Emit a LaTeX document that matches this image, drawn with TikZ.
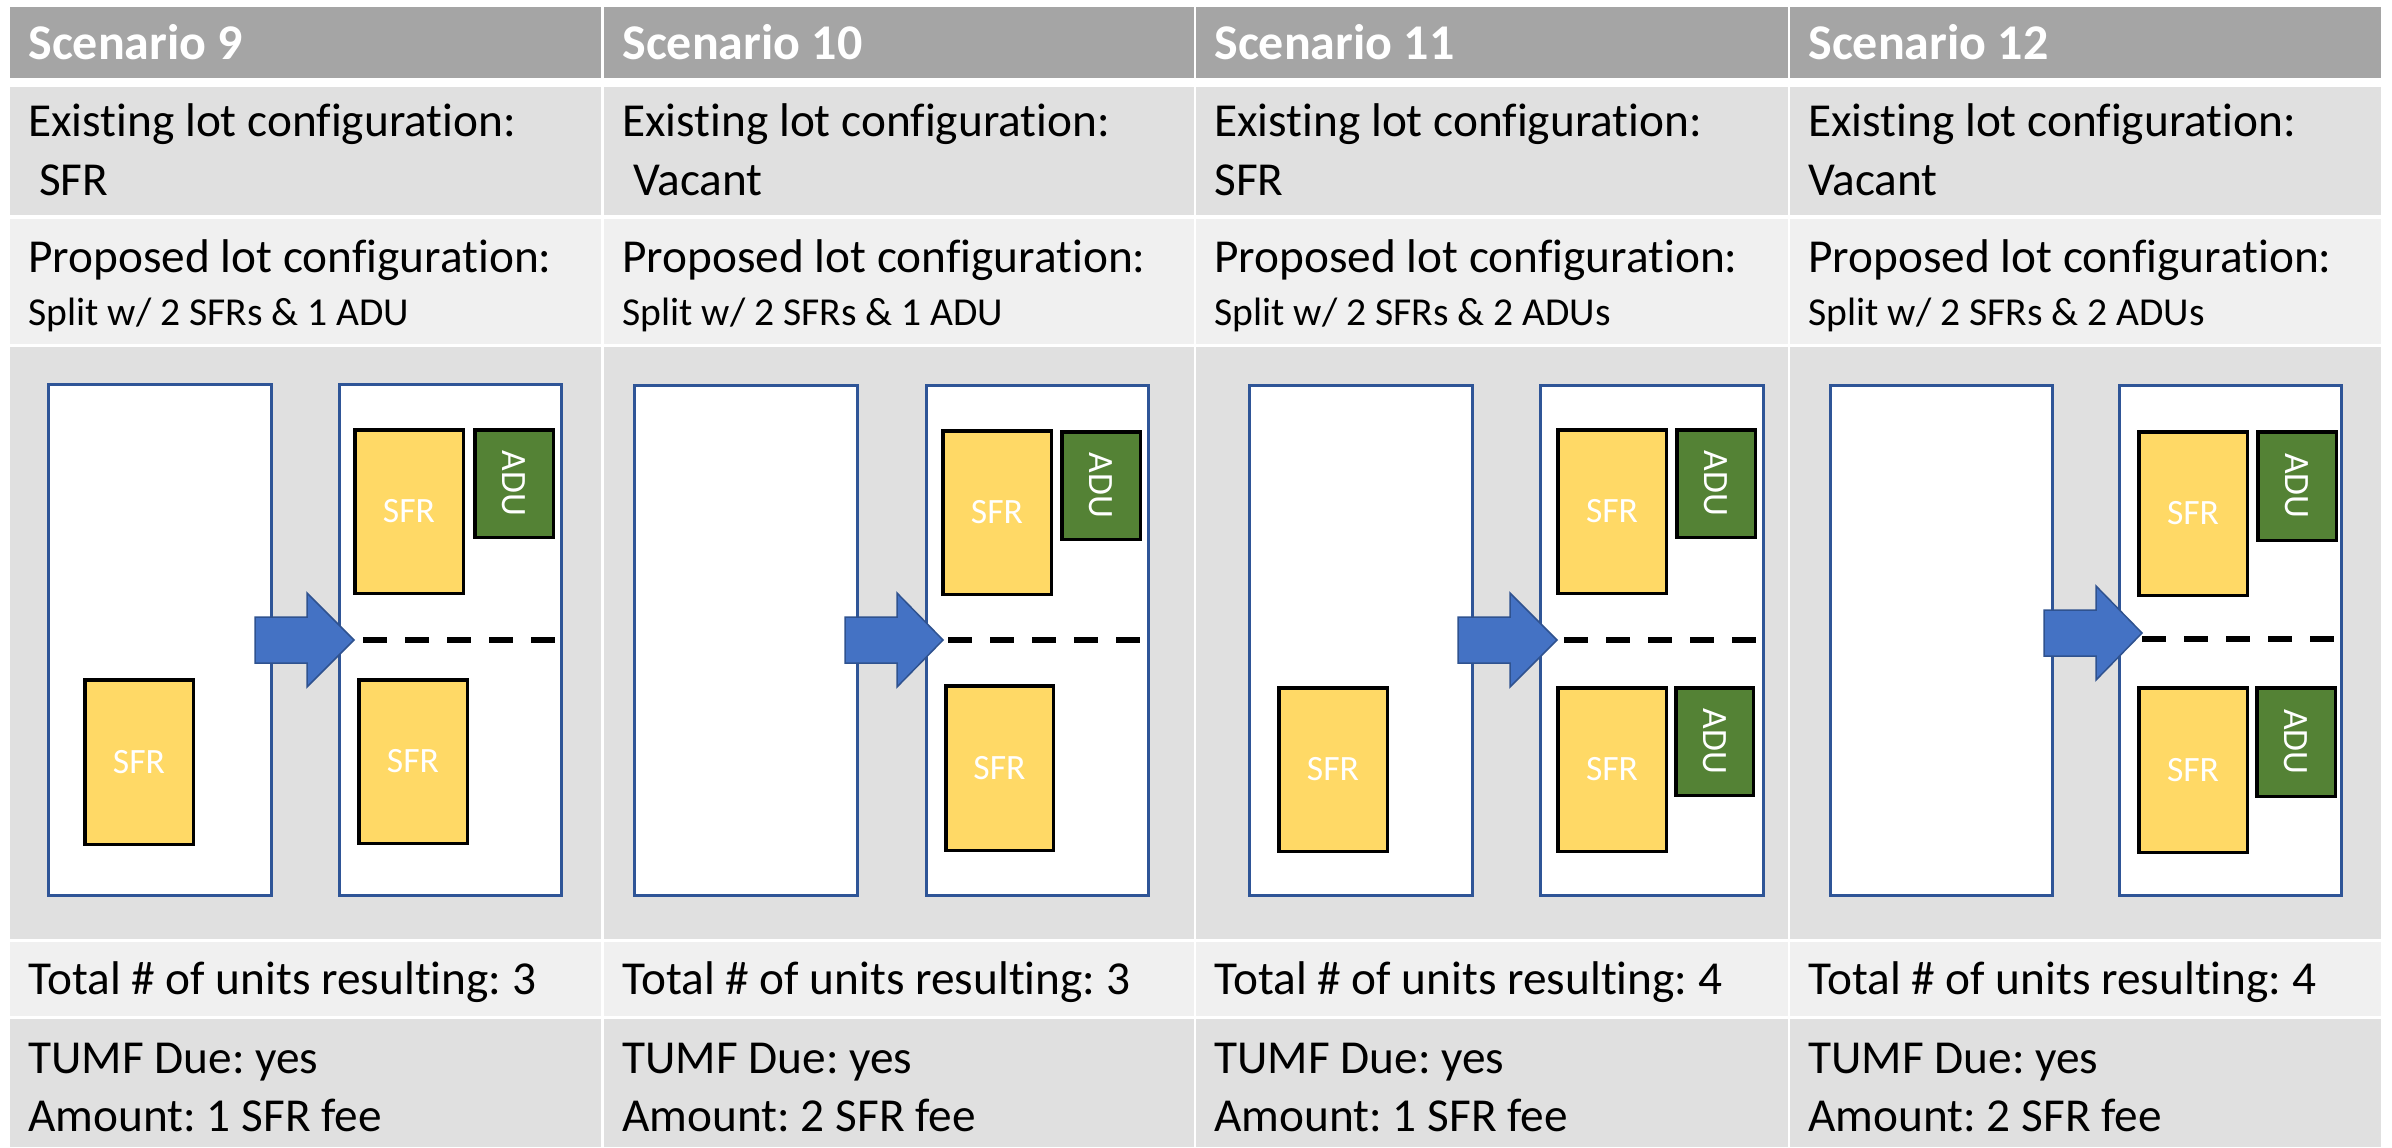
\documentclass[tikz,border=0pt]{standalone}
\usepackage{fontspec}
\setmainfont{Carlito}[Ligatures={NoCommon}]
\usepackage{graphicx}
\frenchspacing
\definecolor{hdrgray}{HTML}{A5A5A5}
\definecolor{rowdark}{HTML}{E0E0E0}
\definecolor{rowlight}{HTML}{F0F0F0}
\definecolor{lotblue}{HTML}{2F5597}
\definecolor{sfrfill}{HTML}{FFD966}
\definecolor{adufill}{HTML}{548235}
\definecolor{arrfill}{HTML}{4472C4}
\definecolor{arrline}{HTML}{2F528F}
\newcommand\lotat[5]{\node[lotbox, minimum width={(#4-#2-3)*0.5pt}, minimum height={(#5-#3-3)*0.5pt}] (#1) at ({(#2+#4)/2},{(#3+#5)/2}) {};}
\newcommand\sfrat[5]{\node[sfrbox, minimum width={(#4-#2-3.5)*0.5pt}, minimum height={(#5-#3-3.5)*0.5pt}] (#1) at ({(#2+#4)/2},{(#3+#5)/2}) {SFR};}
\newcommand\aduat[5]{\node[adubox, minimum width={(#4-#2-3.5)*0.5pt}, minimum height={(#5-#3-3.5)*0.5pt}] (#1) at ({(#2+#4)/2},{(#3+#5)/2}) {\rotatebox{-90}{ADU}};}
\begin{document}
\frenchspacing
\begin{tikzpicture}[x=0.5pt,y=-0.5pt,
  txt/.style={inner sep=0pt, anchor=base west, text=black, font=\fontsize{23.65}{28}\selectfont},
  smalltxt/.style={inner sep=0pt, anchor=base west, text=black, font=\fontsize{19.8}{24}\selectfont},
  hdrtxt/.style={inner sep=0pt, anchor=base west, text=white, font=\fontsize{25}{28}\selectfont\bfseries},
  lotbox/.style={draw=lotblue, fill=white, line width=1.5pt, inner sep=0pt, outer sep=0pt},
  sfrbox/.style={draw=black, fill=sfrfill, line width=1.75pt, inner sep=0pt, outer sep=0pt, text=white, font=\fontsize{17.8}{20}\selectfont},
  adubox/.style={draw=black, fill=adufill, line width=1.75pt, inner sep=0pt, outer sep=0pt, text=white, font=\fontsize{17.8}{20}\selectfont},
  bigarrow/.style={fill=arrfill, draw=arrline, line width=0.75pt, line join=miter},
  splitline/.style={draw=black, line width=2.75pt, dash pattern=on 12pt off 9pt}]
\useasboundingbox (0,0) rectangle (2392,1147);
\fill[white] (0,0) rectangle (2392,1147);
% table cells
\foreach \l/\r in {10/601,604/1194,1196/1788,1790/2381}{
  \fill[hdrgray] (\l,7) rectangle (\r,78);
  \fill[rowdark] (\l,87) rectangle (\r,215);
  \fill[rowlight] (\l,219) rectangle (\r,344);
  \fill[rowdark] (\l,347) rectangle (\r,939);
  \fill[rowlight] (\l,942) rectangle (\r,1016);
  \fill[rowdark] (\l,1019) rectangle (\r,1147);
}
% texts
\foreach \i/\cx/\num/\ex/\sp/\tot/\amt in {
  1/10/9/{\hspace*{.23em}SFR}/1 ADU/3/1,
  2/604/10/{\hspace*{.23em}Vacant}/1 ADU/3/2,
  3/1196/11/SFR/2 ADUs/4/1,
  4/1790/12/Vacant/2 ADUs/4/2}{
  \node[hdrtxt] (hdr\i) at ({\cx+18},59) {Scenario \num};
  \node[txt] (exa\i) at ({\cx+18},136) {Existing lot configuration:};
  \node[txt] (exb\i) at ({\cx+18},195) {\ex};
  \node[txt] (pra\i) at ({\cx+18},272) {Proposed lot configuration:};
  \node[smalltxt] (prb\i) at ({\cx+18},325) {Split w/ 2 SFRs \& \sp};
  \node[txt] (tot\i) at ({\cx+18},994) {Total \# of units resulting: \tot};
  \node[txt] (duea\i) at ({\cx+18},1073) {TUMF Due: yes};
  \node[txt] (dueb\i) at ({\cx+18},1131) {Amount: \amt\ SFR fee};
}
% scenario 9
\lotat{lotA1}{47}{383}{273}{897}
\lotat{lotB1}{338}{383}{563}{897}
\sfrat{sfrU1}{353}{428}{465}{595}
\aduat{aduU1}{473}{428}{555}{539}
\sfrat{sfrL1}{357}{678}{469}{845}
\sfrat{sfrE1}{83}{678}{195}{846}
% scenario 10
\lotat{lotA2}{633}{384}{859}{897}
\lotat{lotB2}{925}{384}{1150}{897}
\sfrat{sfrU2}{941}{429}{1053}{596}
\aduat{aduU2}{1060}{430}{1142}{541}
\sfrat{sfrL2}{944}{684}{1055}{852}
% scenario 11
\lotat{lotA3}{1248}{384}{1474}{897}
\lotat{lotB3}{1539}{384}{1765}{897}
\sfrat{sfrU3}{1556}{428}{1668}{595}
\aduat{aduU3}{1675}{428}{1757}{539}
\sfrat{sfrL3}{1556}{686}{1668}{853}
\aduat{aduL3}{1674}{686}{1755}{797}
\sfrat{sfrE3}{1277}{686}{1389}{853}
% scenario 12
\lotat{lotA4}{1829}{384}{2054}{897}
\lotat{lotB4}{2118}{384}{2343}{897}
\sfrat{sfrU4}{2137}{430}{2249}{597}
\aduat{aduU4}{2256}{430}{2338}{542}
\sfrat{sfrL4}{2137}{686}{2249}{854}
\aduat{aduL4}{2255}{686}{2337}{798}
% arrows
\foreach \xs/\xb/\xt/\yc in {255/307/354/640, 845/897/943/640, 1458/1510/1557/640, 2044/2096/2142/633}{
  \draw[bigarrow] (\xs,{\yc-23}) -- (\xb,{\yc-23}) -- (\xb,{\yc-47}) -- (\xt,\yc) -- (\xb,{\yc+47}) -- (\xb,{\yc+23}) -- (\xs,{\yc+23}) -- cycle;
}
% split lines
\foreach \i/\a/\b/\y in {1/363/555/640, 2/948/1141/640, 3/1564/1756/640, 4/2142/2334/639}{
  \coordinate (spa\i) at (\a,\y);
  \coordinate (spb\i) at (\b,\y);
  \draw[splitline] (spa\i) -- (spb\i);
}
\end{tikzpicture}
\end{document}
